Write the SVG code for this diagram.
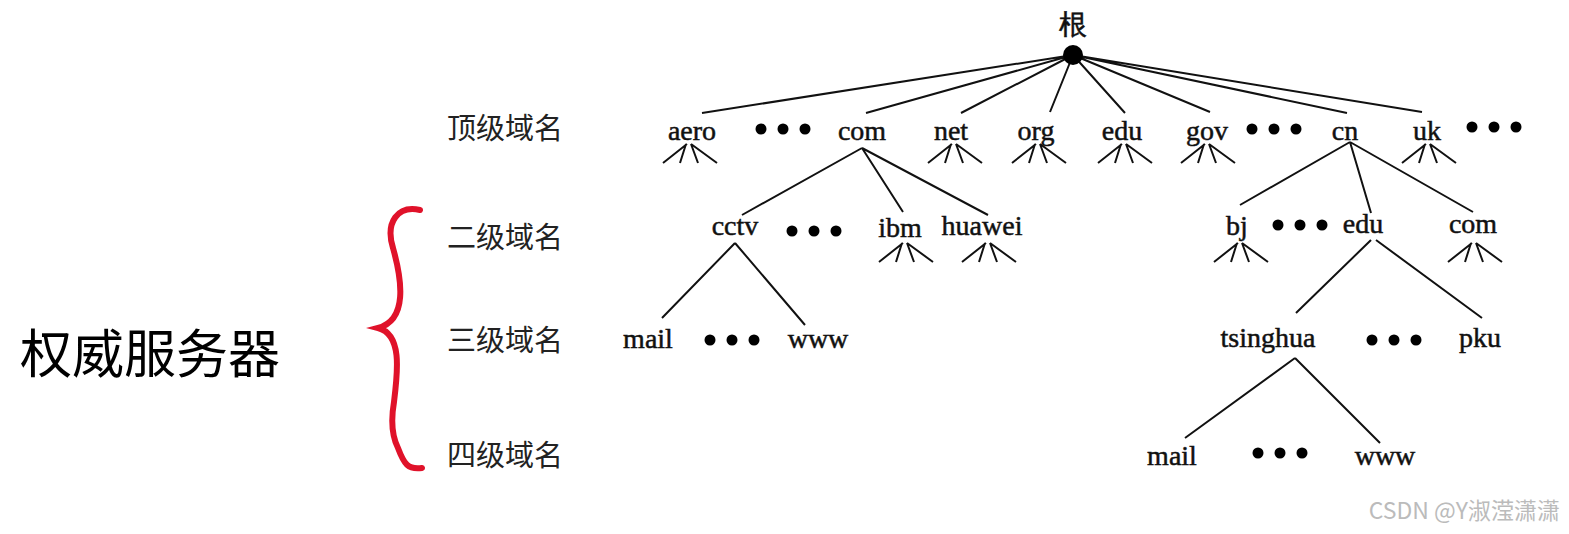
<svg xmlns="http://www.w3.org/2000/svg" width="1569" height="534" viewBox="0 0 1569 534">
<defs>
<style>
.t{font-family:"Liberation Serif",serif;font-size:28px;fill:#111;stroke:#111;stroke-width:0.5;text-anchor:middle}
.l{font-family:"Noto Sans CJK SC",sans-serif;font-size:29px;fill:#222}
.e{stroke:#111;stroke-width:2;fill:none}
.d{fill:#000}
</style>
<g id="fan"><path class="e" d="M-2,0 L-26,19 M-3,0 L-9,19 M2,0 L9,19 M2,0 L28,19"/></g>
<g id="dots"><circle cx="0" cy="0" r="5.5" class="d"/><circle cx="22" cy="0" r="5.5" class="d"/><circle cx="44" cy="0" r="5.5" class="d"/></g>
</defs>
<rect width="1569" height="534" fill="#fff"/>
<text x="20" y="373" style="font-family:'Noto Sans CJK SC',sans-serif;font-size:52px;fill:#000">权威服务器</text>
<path d="M420,210 C398,205 385,222 393,248 C402,280 408,320 378,328 C402,334 398,370 394,402 C390,425 394,440 398,448 C404,464 408,470 422,468" stroke="#e0122a" stroke-width="6" fill="none" stroke-linecap="round"/>
<g id="levels">
<text class="l" x="447" y="139">顶级域名</text>
<text class="l" x="447" y="248">二级域名</text>
<text class="l" x="447" y="351">三级域名</text>
<text class="l" x="447" y="466">四级域名</text>
</g>
<g id="connectors">
<path class="e" d="M1073,55 L702,113 M1073,55 L866,113 M1073,55 L961,113 M1073,55 L1050,112 M1073,55 L1125,113 M1073,55 L1210,112 M1073,55 L1347,113 M1073,55 L1422,112"/>
<path class="e" d="M862,148 L742,215 M862,148 L903,212 M862,148 L988,215"/>
<path class="e" d="M1350,142 L1240,205 M1350,142 L1371,213 M1350,142 L1473,212"/>
<path class="e" d="M735,243 L662,318 M735,243 L805,325"/>
<path class="e" d="M1371,240 L1296,313 M1376,240 L1482,318"/>
<path class="e" d="M1295,358 L1185,438 M1295,358 L1380,443"/>
<use href="#fan" x="689" y="144"/><use href="#fan" x="954" y="144"/><use href="#fan" x="1038" y="144"/>
<use href="#fan" x="1124" y="144"/><use href="#fan" x="1207" y="144"/><use href="#fan" x="1428" y="144"/>
<use href="#fan" x="905" y="243"/><use href="#fan" x="988" y="243"/><use href="#fan" x="1240" y="243"/><use href="#fan" x="1474" y="243"/>
</g>
<g id="root"><text class="t" x="1073" y="34">根</text><circle cx="1073" cy="55" r="10" class="d"/></g>
<g id="top">
<text class="t" x="692" y="140">aero</text><use href="#dots" x="761" y="129"/>
<text class="t" x="862" y="140">com</text><text class="t" x="951" y="140">net</text>
<text class="t" x="1036" y="140">org</text><text class="t" x="1122" y="140">edu</text>
<text class="t" x="1207" y="140">gov</text><use href="#dots" x="1252" y="129"/>
<text class="t" x="1345" y="140">cn</text><text class="t" x="1427" y="140">uk</text><use href="#dots" x="1472" y="127"/>
</g>
<g id="second">
<text class="t" x="735" y="235">cctv</text><use href="#dots" x="792" y="231"/>
<text class="t" x="900" y="237">ibm</text><text class="t" x="982" y="235">huawei</text>
<text class="t" x="1237" y="235">bj</text><use href="#dots" x="1278" y="225"/>
<text class="t" x="1363" y="233">edu</text><text class="t" x="1473" y="233">com</text>
</g>
<g id="third">
<text class="t" x="648" y="348">mail</text><use href="#dots" x="710" y="340"/><text class="t" x="818" y="348">www</text>
<text class="t" x="1268" y="347">tsinghua</text><use href="#dots" x="1372" y="340"/><text class="t" x="1480" y="347">pku</text>
</g>
<g id="fourth">
<text class="t" x="1172" y="465">mail</text><use href="#dots" x="1258" y="453"/><text class="t" x="1385" y="465">www</text>
</g>
<text x="1560" y="519" style="font-family:'Noto Sans CJK SC',sans-serif;font-size:23px;fill:#bbb;text-anchor:end">CSDN @Y淑滢潇潇</text>
</svg>
